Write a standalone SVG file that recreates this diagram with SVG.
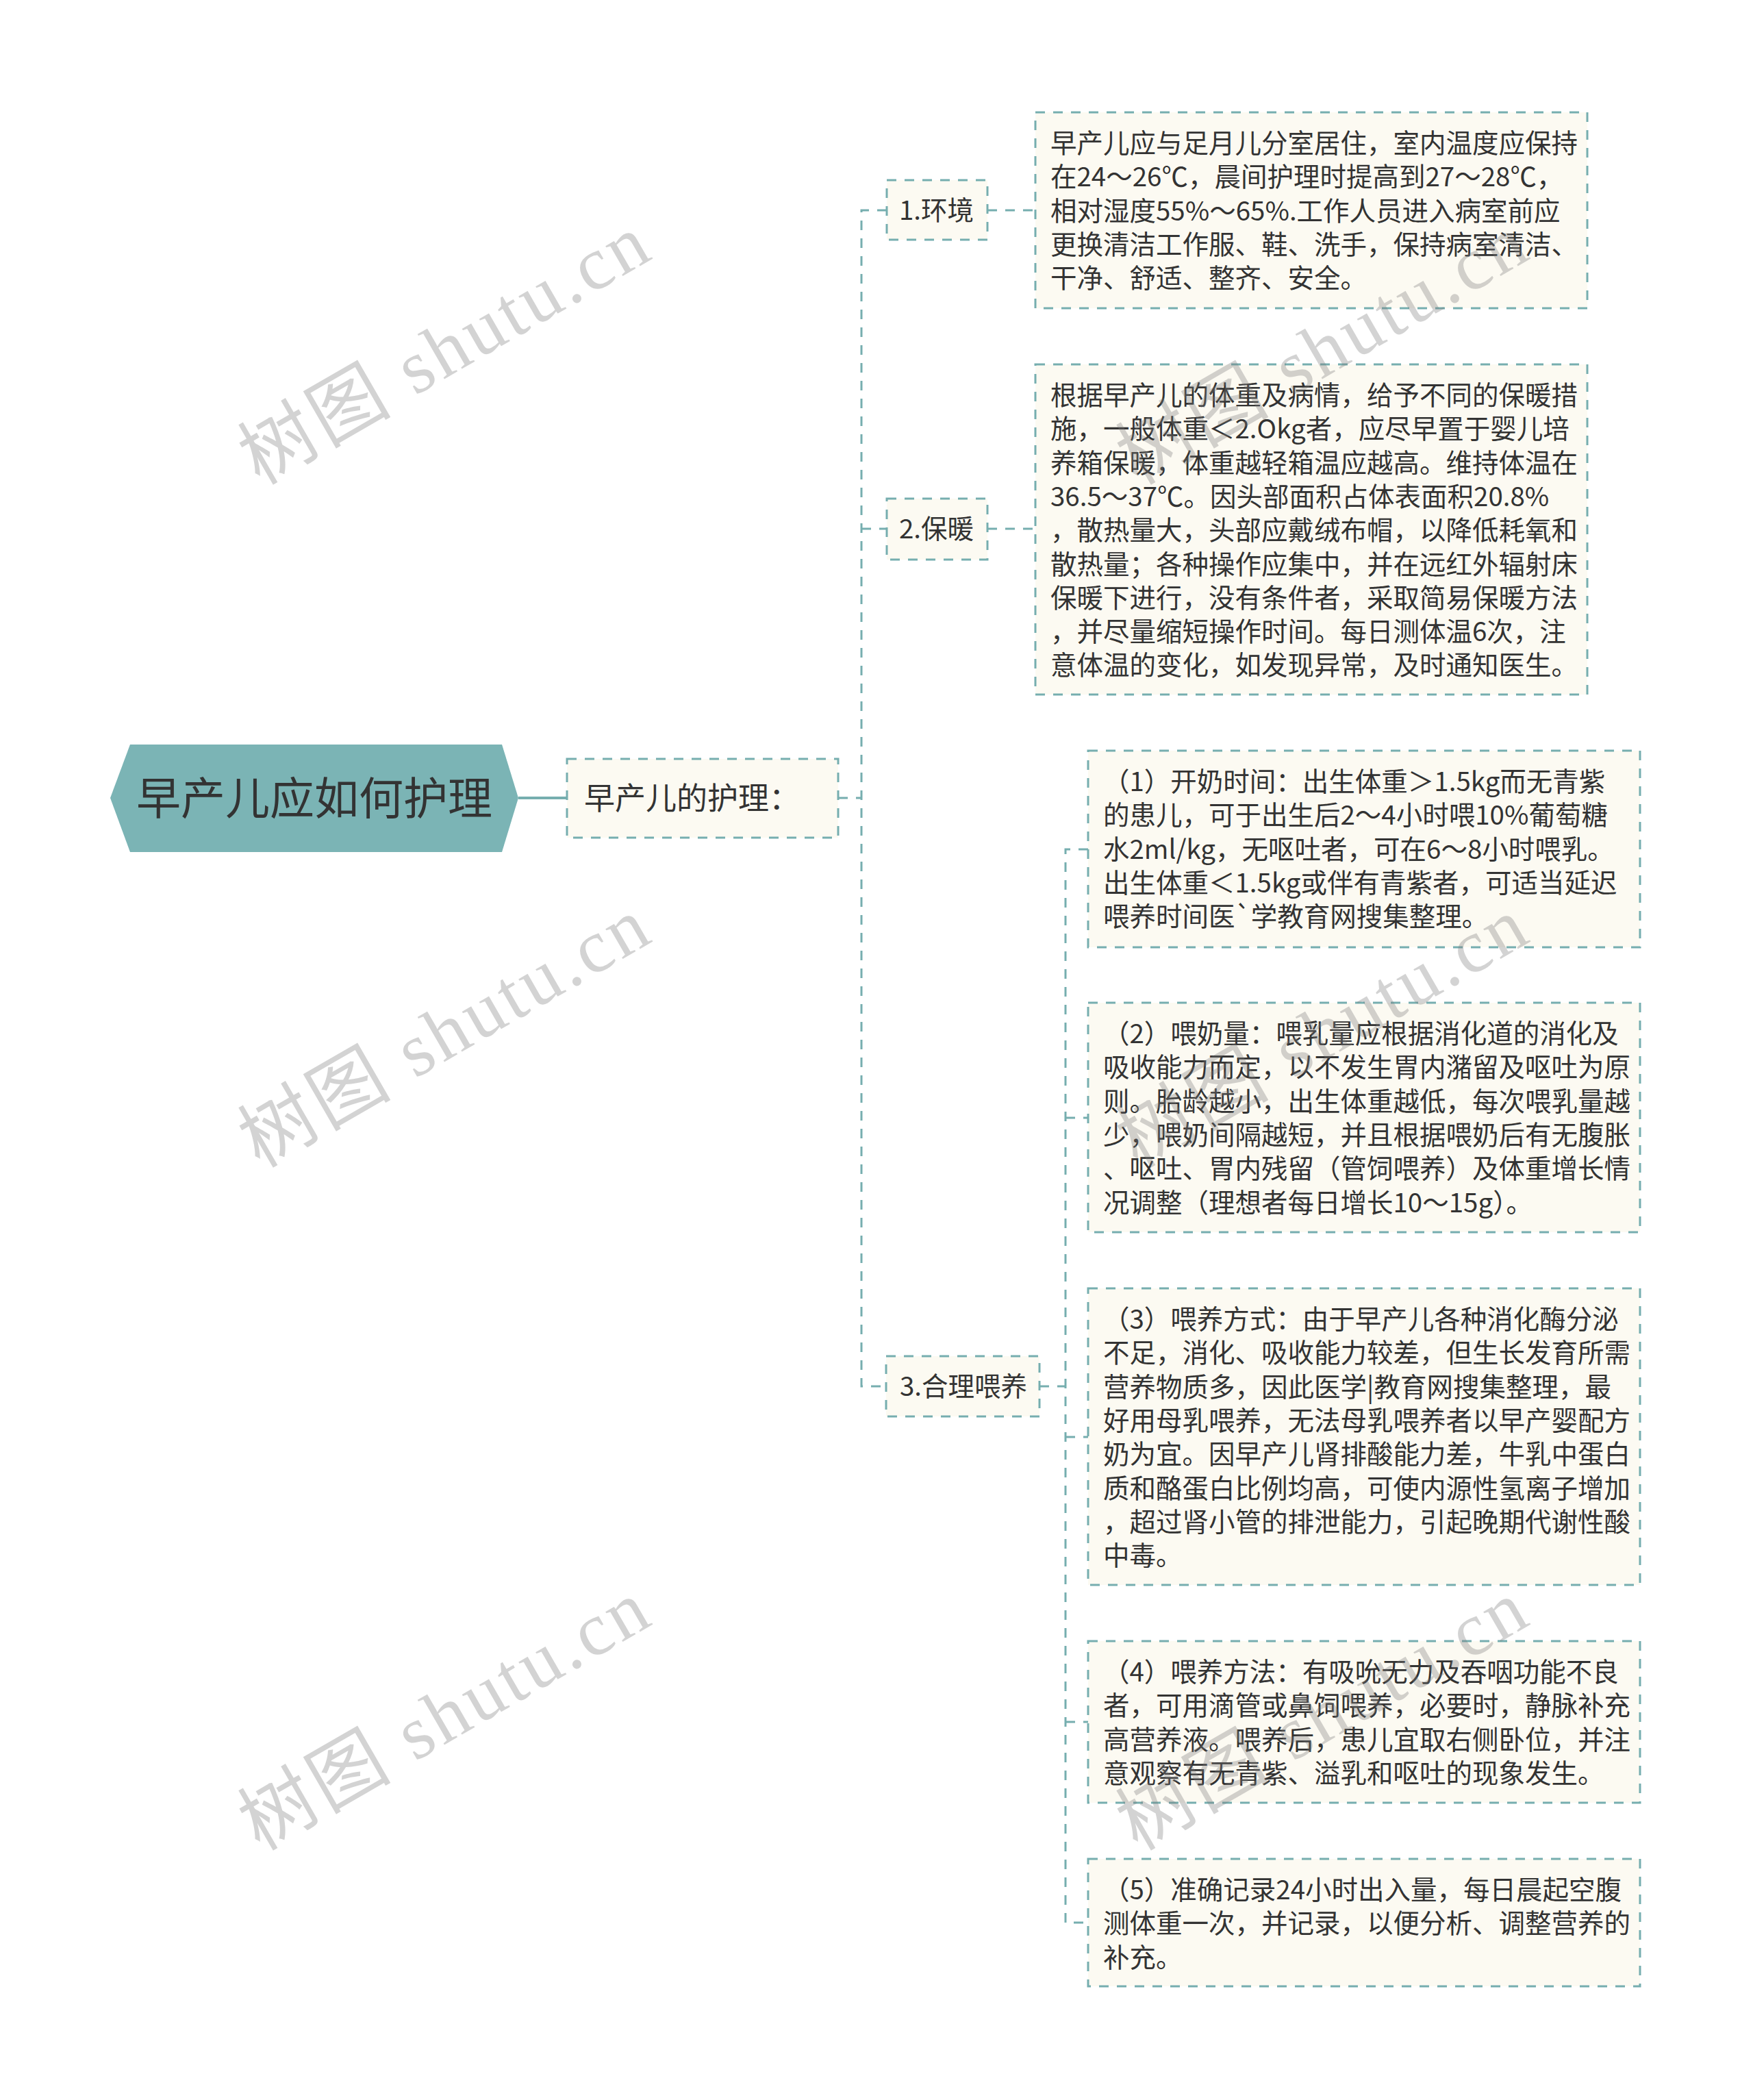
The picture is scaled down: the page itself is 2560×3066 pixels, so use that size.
<svg xmlns="http://www.w3.org/2000/svg" width="2560" height="3066" viewBox="0 0 2560 3066">
<style>
.bg{fill:#ffffff}
.conn{fill:none;stroke:#76aeaf;stroke-width:3;stroke-dasharray:14 12}
.solid{fill:none;stroke:#76aeaf;stroke-width:4}
.box{fill:#fcfaf2;stroke:#76aeaf;stroke-width:3;stroke-dasharray:14 12}
.root{fill:#7bb4b5}
.t{font-family:"Noto Sans CJK SC","Noto Sans",sans-serif;fill:#333333}
.t38{font-size:38.5px}
.wm{font-family:"Liberation Serif","Noto Sans CJK SC",serif;font-size:110px;fill:#7a7a7a;fill-opacity:0.33}
</style>
<rect class="bg" x="0" y="0" width="2560" height="3066"/>

<g id="connectors">
  <path class="solid" d="M757 1165 H828"/>
  <path class="conn" d="M1224 1165 H1258"/>
  <path class="conn" d="M1295 307 H1258 V2024 H1294"/>
  <path class="conn" d="M1258 772 H1295"/>
  <path class="conn" d="M1442 307 H1512"/>
  <path class="conn" d="M1442 772 H1512"/>
  <path class="conn" d="M1518 2024 H1556"/>
  <path class="conn" d="M1589 1240 H1556 V2807 H1589"/>
  <path class="conn" d="M1556 1632 H1589"/>
  <path class="conn" d="M1556 2098 H1589"/>
  <path class="conn" d="M1556 2514 H1589"/>
</g>

<g id="root">
  <polygon class="root" points="161,1165 190,1087 733,1087 757,1165 733,1244 190,1244"/>
  <text class="t" x="459" y="1189" font-size="65" text-anchor="middle">早产儿应如何护理</text>
</g>

<g id="n-care">
  <rect class="box" x="828" y="1108" width="396" height="115"/>
  <text class="t" x="853" y="1182" font-size="45">早产儿的护理：</text>
</g>

<g id="n-env">
  <rect class="box" x="1295" y="263" width="147" height="87"/>
  <text class="t t38" x="1313" y="321">1.环境</text>
</g>

<g id="n-env-detail">
  <rect class="box" x="1512" y="164" width="806" height="286"/>
  <text class="t t38" x="1534" y="223">
    <tspan x="1534" y="223">早产儿应与足月儿分室居住，室内温度应保持</tspan>
    <tspan x="1534" dy="49.3">在24～26℃，晨间护理时提高到27～28℃，</tspan>
    <tspan x="1534" dy="49.3">相对湿度55%～65%.工作人员进入病室前应</tspan>
    <tspan x="1534" dy="49.3">更换清洁工作服、鞋、洗手，保持病室清洁、</tspan>
    <tspan x="1534" dy="49.3">干净、舒适、整齐、安全。</tspan>
  </text>
</g>

<g id="n-warm">
  <rect class="box" x="1295" y="728" width="147" height="89"/>
  <text class="t t38" x="1313" y="786">2.保暖</text>
</g>

<g id="n-warm-detail">
  <rect class="box" x="1512" y="532" width="806" height="482"/>
  <text class="t t38">
    <tspan x="1534" y="591">根据早产儿的体重及病情，给予不同的保暖措</tspan>
    <tspan x="1534" dy="49.3">施，一般体重＜2.Okg者，应尽早置于婴儿培</tspan>
    <tspan x="1534" dy="49.3">养箱保暖，体重越轻箱温应越高。维持体温在</tspan>
    <tspan x="1534" dy="49.3">36.5～37℃。因头部面积占体表面积20.8%</tspan>
    <tspan x="1534" dy="49.3">，散热量大，头部应戴绒布帽，以降低耗氧和</tspan>
    <tspan x="1534" dy="49.3">散热量；各种操作应集中，并在远红外辐射床</tspan>
    <tspan x="1534" dy="49.3">保暖下进行，没有条件者，采取简易保暖方法</tspan>
    <tspan x="1534" dy="49.3">，并尽量缩短操作时间。每日测体温6次，注</tspan>
    <tspan x="1534" dy="49.3">意体温的变化，如发现异常，及时通知医生。</tspan>
  </text>
</g>

<g id="n-feed">
  <rect class="box" x="1294" y="1980" width="224" height="88"/>
  <text class="t t38" x="1314" y="2038">3.合理喂养</text>
</g>

<g id="n-feed-1">
  <rect class="box" x="1589" y="1096" width="806" height="287"/>
  <text class="t t38">
    <tspan x="1611" y="1155">（1）开奶时间：出生体重＞1.5kg而无青紫</tspan>
    <tspan x="1611" dy="49.3">的患儿，可于出生后2～4小时喂10%葡萄糖</tspan>
    <tspan x="1611" dy="49.3">水2ml/kg，无呕吐者，可在6～8小时喂乳。</tspan>
    <tspan x="1611" dy="49.3">出生体重＜1.5kg或伴有青紫者，可适当延迟</tspan>
    <tspan x="1611" dy="49.3">喂养时间医`学教育网搜集整理。</tspan>
  </text>
</g>

<g id="n-feed-2">
  <rect class="box" x="1589" y="1464" width="806" height="335"/>
  <text class="t t38">
    <tspan x="1611" y="1523">（2）喂奶量：喂乳量应根据消化道的消化及</tspan>
    <tspan x="1611" dy="49.3">吸收能力而定，以不发生胃内潴留及呕吐为原</tspan>
    <tspan x="1611" dy="49.3">则。胎龄越小，出生体重越低，每次喂乳量越</tspan>
    <tspan x="1611" dy="49.3">少，喂奶间隔越短，并且根据喂奶后有无腹胀</tspan>
    <tspan x="1611" dy="49.3">、呕吐、胃内残留（管饲喂养）及体重增长情</tspan>
    <tspan x="1611" dy="49.3">况调整（理想者每日增长10～15g）。</tspan>
  </text>
</g>

<g id="n-feed-3">
  <rect class="box" x="1589" y="1881" width="806" height="433"/>
  <text class="t t38">
    <tspan x="1611" y="1940">（3）喂养方式：由于早产儿各种消化酶分泌</tspan>
    <tspan x="1611" dy="49.3">不足，消化、吸收能力较差，但生长发育所需</tspan>
    <tspan x="1611" dy="49.3">营养物质多，因此医学|教育网搜集整理，最</tspan>
    <tspan x="1611" dy="49.3">好用母乳喂养，无法母乳喂养者以早产婴配方</tspan>
    <tspan x="1611" dy="49.3">奶为宜。因早产儿肾排酸能力差，牛乳中蛋白</tspan>
    <tspan x="1611" dy="49.3">质和酪蛋白比例均高，可使内源性氢离子增加</tspan>
    <tspan x="1611" dy="49.3">，超过肾小管的排泄能力，引起晚期代谢性酸</tspan>
    <tspan x="1611" dy="49.3">中毒。</tspan>
  </text>
</g>

<g id="n-feed-4">
  <rect class="box" x="1589" y="2396" width="806" height="236"/>
  <text class="t t38">
    <tspan x="1611" y="2455">（4）喂养方法：有吸吮无力及吞咽功能不良</tspan>
    <tspan x="1611" dy="49.3">者，可用滴管或鼻饲喂养，必要时，静脉补充</tspan>
    <tspan x="1611" dy="49.3">高营养液。喂养后，患儿宜取右侧卧位，并注</tspan>
    <tspan x="1611" dy="49.3">意观察有无青紫、溢乳和呕吐的现象发生。</tspan>
  </text>
</g>

<g id="n-feed-5">
  <rect class="box" x="1589" y="2714" width="806" height="186"/>
  <text class="t t38">
    <tspan x="1611" y="2773">（5）准确记录24小时出入量，每日晨起空腹</tspan>
    <tspan x="1611" dy="49.3">测体重一次，并记录，以便分析、调整营养的</tspan>
    <tspan x="1611" dy="49.3">补充。</tspan>
  </text>
</g>

<g id="watermarks">
  <text class="wm" transform="translate(648,510) rotate(-30)" x="0" y="38" text-anchor="middle" textLength="665" lengthAdjust="spacing">树图 shutu.cn</text>
  <text class="wm" transform="translate(648,1507) rotate(-30)" x="0" y="38" text-anchor="middle" textLength="665" lengthAdjust="spacing">树图 shutu.cn</text>
  <text class="wm" transform="translate(648,2504) rotate(-30)" x="0" y="38" text-anchor="middle" textLength="665" lengthAdjust="spacing">树图 shutu.cn</text>
  <text class="wm" transform="translate(1930,510) rotate(-30)" x="0" y="38" text-anchor="middle" textLength="665" lengthAdjust="spacing">树图 shutu.cn</text>
  <text class="wm" transform="translate(1930,1507) rotate(-30)" x="0" y="38" text-anchor="middle" textLength="665" lengthAdjust="spacing">树图 shutu.cn</text>
  <text class="wm" transform="translate(1930,2504) rotate(-30)" x="0" y="38" text-anchor="middle" textLength="665" lengthAdjust="spacing">树图 shutu.cn</text>
</g>
</svg>
